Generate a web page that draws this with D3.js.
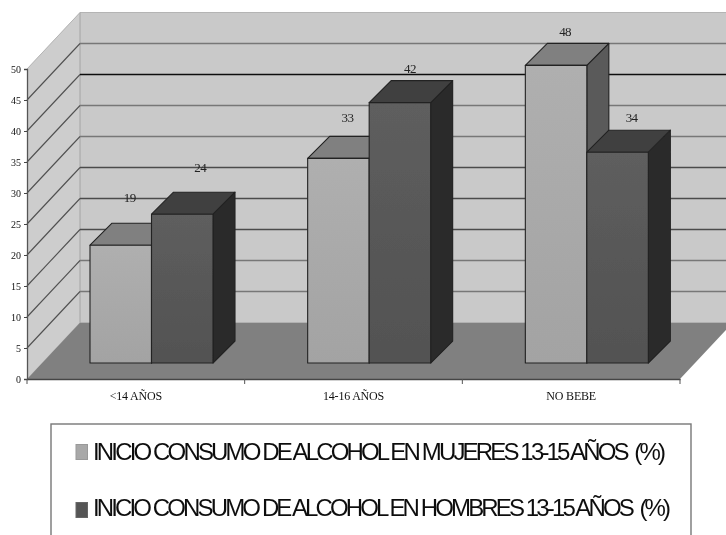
<!DOCTYPE html>
<html><head><meta charset="utf-8">
<script src="https://cdn.jsdelivr.net/npm/d3@7"></script>
<style>html,body{margin:0;padding:0;background:#fff}svg{display:block}</style></head>
<body><div id="c"></div>
<script>
const categories = ["<14 AÑOS", "14-16 AÑOS", "NO BEBE"];
const mujeres = [19, 33, 48];
const hombres = [24, 42, 34];
const seriesNames = ["INICIO CONSUMO DE ALCOHOL EN MUJERES 13-15 AÑOS  (%)", "INICIO CONSUMO DE ALCOHOL EN HOMBRES 13-15 AÑOS  (%)"];
const yTicks = [0,5,10,15,20,25,30,35,40,45,50];

const W=726,H=535;
const svg=d3.select("#c").append("svg").attr("width",W).attr("height",H).attr("viewBox",`0 0 ${W} ${H}`);
const defs=svg.append("defs");
defs.append("filter").attr("id","soft").attr("filterUnits","userSpaceOnUse").attr("x",0).attr("y",0).attr("width",W).attr("height",H)
  .append("feGaussianBlur").attr("stdDeviation",0.7);
const grad=(id,a,b)=>{const g=defs.append("linearGradient").attr("id",id).attr("x1",0).attr("y1",0).attr("x2",0).attr("y2",1);
  g.append("stop").attr("offset",0).attr("stop-color",a);g.append("stop").attr("offset",1).attr("stop-color",b);};
grad("gl","#afafaf","#a3a3a3");grad("gd","#5e5e5e","#525252");
const root=svg.append("g").attr("filter","url(#soft)");

const x0=27,x1=680,dX=53,dY=56.5;
const y=d3.scaleLinear().domain([0,50]).range([379,69]);
const xb=d3.scaleBand().domain(categories).range([x0,x1]);
const inner=d3.scaleBand().domain([0,1]).range([63,186]);
const barDepth=22, baseShift=16;
const poly=p=>p.map(q=>q.join(",")).join(" ");

// walls and floor
root.append("polygon").attr("points",poly([[x0,y(50)],[x0+dX,y(50)-dY],[W+10,y(50)-dY],[W+10,y(0)-dY],[x0+dX,y(0)-dY],[x0,y(0)]])).attr("fill","#c9c9c9");
root.append("polygon").attr("points",poly([[x0,y(50)],[x0+dX,y(50)-dY],[x0+dX,y(0)-dY],[x0,y(0)]])).attr("fill","#cdcdcd");
root.append("polyline").attr("points",poly([[x0,y(50)],[x0+dX,y(50)-dY],[W+10,y(50)-dY]])).attr("fill","none").attr("stroke","#b4b4b4").attr("stroke-width",1);
root.append("line").attr("x1",x0+dX).attr("x2",x0+dX).attr("y1",y(50)-dY).attr("y2",y(0)-dY).attr("stroke","#a4a4a4");

// gridlines: side-wall segment, then back-wall segment
const gridCol=t=>t===40?"#111":(t===25||t===15||t===20?"#4c4c4c":"#777");
const gridTicks=yTicks.filter(t=>t>0&&t<50);
root.append("g").selectAll("line").data(gridTicks).join("line")
  .attr("stroke","#505050").attr("stroke-width",1.1)
  .attr("x1",x0).attr("y1",t=>y(t)).attr("x2",x0+dX).attr("y2",t=>y(t)-dY);
root.append("g").selectAll("line").data(gridTicks).join("line")
  .attr("stroke",gridCol).attr("stroke-width",1.3)
  .attr("x1",x0+dX).attr("y1",t=>y(t)-dY).attr("x2",W+10).attr("y2",t=>y(t)-dY);

root.append("polygon").attr("points",poly([[x0,y(0)],[x1,y(0)],[x1+dX,y(0)-dY],[x0+dX,y(0)-dY]])).attr("fill","#808080");

// bars
const series=[{v:mujeres,front:"url(#gl)",top:"#808080",side:"#5a5a5a"},{v:hombres,front:"url(#gd)",top:"#404040",side:"#2c2c2c"}];
categories.forEach((c,i)=>{
  series.forEach((s,k)=>{
    const bx=xb(c)+inner(k), bw=inner.bandwidth(), base=y(0)-baseShift, top=y(s.v[i])-baseShift;
    const g=root.append("g").attr("stroke","#222").attr("stroke-width",1.1).attr("stroke-linejoin","round");
    g.append("polygon").attr("points",poly([[bx+bw,top],[bx+bw+barDepth,top-barDepth],[bx+bw+barDepth,base-barDepth],[bx+bw,base]])).attr("fill",s.side);
    g.append("polygon").attr("points",poly([[bx,top],[bx+barDepth,top-barDepth],[bx+bw+barDepth,top-barDepth],[bx+bw,top]])).attr("fill",s.top);
    g.append("rect").attr("x",bx).attr("y",top).attr("width",bw).attr("height",base-top).attr("fill",s.front);
  });
});

// value labels
const labelShift=[[[9,-10],[18,-9]],[[9,-3],[10,3]],[[9,4],[14,3]]];
const fontSerif="'Liberation Serif',serif";
categories.forEach((c,i)=>{
  series.forEach((s,k)=>{
    const bx=xb(c)+inner(k)+inner.bandwidth()/2;
    root.append("text").attr("x",bx+labelShift[i][k][0]).attr("y",y(s.v[i])-baseShift-37+labelShift[i][k][1]+4)
      .attr("text-anchor","middle").attr("font-family",fontSerif).attr("font-size",13).attr("letter-spacing",-0.6).attr("fill","#222").text(s.v[i]);
  });
});

// axes
const yAxis=d3.axisLeft(y).tickValues(yTicks).tickSize(3).tickPadding(3);
const ya=root.append("g").attr("transform",`translate(${x0},0)`).call(yAxis);
ya.select(".domain").attr("stroke","#555").attr("stroke-width",1.3);
ya.selectAll(".tick line").attr("stroke","#444");
ya.selectAll("text").attr("font-family",fontSerif).attr("font-size",10).attr("fill","#111");

const xAxis=d3.axisBottom(xb).tickSize(0).tickPadding(12);
const xa=root.append("g").attr("transform",`translate(0,${y(0)})`).call(xAxis);
xa.select(".domain").attr("stroke","#444").attr("stroke-width",1.5);
xa.selectAll("text").attr("font-family",fontSerif).attr("font-size",12).attr("letter-spacing",-0.2).attr("fill","#111");
const edges=categories.map(c=>xb(c)).concat([x1]);
root.append("g").selectAll("line").data(edges).join("line").attr("x1",d=>d).attr("x2",d=>d).attr("y1",y(0)).attr("y2",y(0)+5).attr("stroke","#555");

// legend
root.append("rect").attr("x",51).attr("y",424).attr("width",640).attr("height",130).attr("fill","#fff").attr("stroke","#777").attr("stroke-width",1.4);
const legendEnd=[666,671], swatchY=[452,510], textY=[459.5,515.5];
series.forEach((s,k)=>{
  root.append("rect").attr("x",76).attr("y",swatchY[k]-7.5).attr("width",11.5).attr("height",15).attr("fill",k?"#555":"#a8a8a8").attr("stroke",k?"#666":"#999");
  root.append("text").attr("x",93).attr("y",textY[k]).attr("font-family","'Liberation Sans',sans-serif").attr("font-size",24).attr("fill","#111")
    .attr("textLength",legendEnd[k]-93).attr("lengthAdjust","spacing").style("white-space","pre").text(seriesNames[k]);
});
</script></body></html>
